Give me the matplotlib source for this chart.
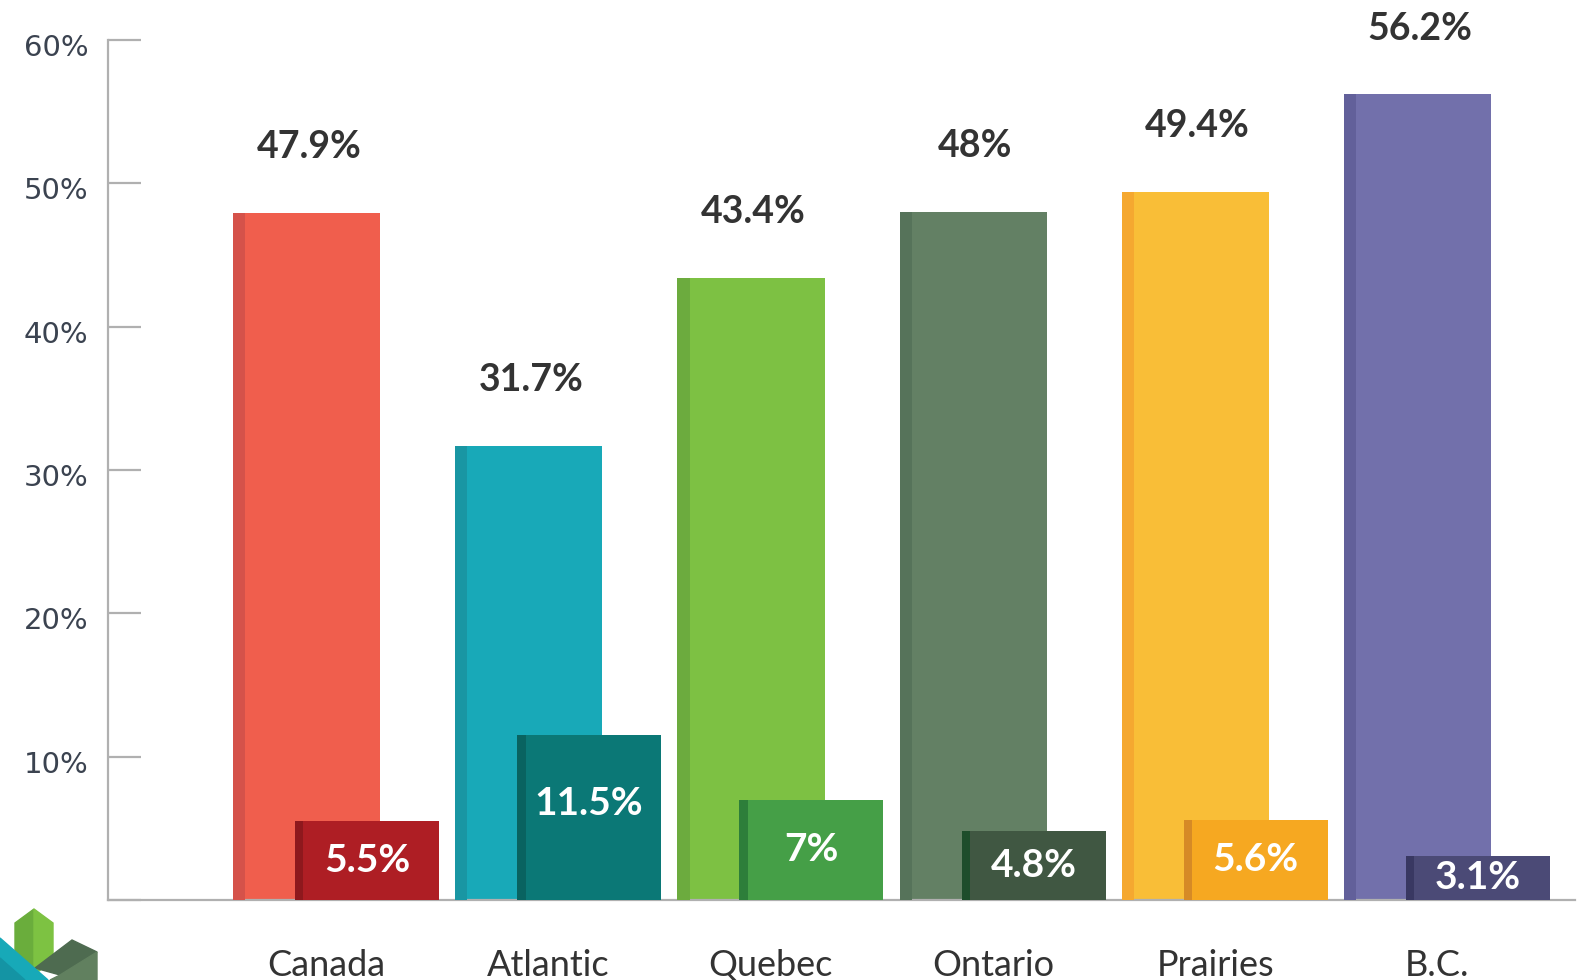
"""Regional shares — paired bars with a darker left edge stripe."""

import matplotlib.pyplot as plt
from matplotlib.patches import Polygon
from matplotlib.transforms import ScaledTranslation

# --- data -----------------------------------------------------------------
regions = ["Canada", "Atlantic", "Quebec", "Ontario", "Prairies", "B.C."]
main_share = [47.9, 31.7, 43.4, 48.0, 49.4, 56.2]
minor_share = [5.5, 11.5, 7.0, 4.8, 5.6, 3.1]

main_colors = ["#F05E4D", "#18A9B8", "#7DC143", "#638064", "#F9BE37", "#7270AB"]
main_edge = ["#D5524A", "#1996A3", "#6CAB3E", "#56735A", "#F5A830", "#62609A"]
minor_colors = ["#AE1E24", "#0B7876", "#459F47", "#405742", "#F6A821", "#4B4A76"]
minor_edge = ["#8E181D", "#096360", "#2D7E3A", "#1E4D2B", "#D68A26", "#393862"]

# --- layout (x unit = one region slot) --------------------------------------
W_PX, H_PX = 1577, 980
MAIN_OFF, MAIN_W, MAIN_STRIPE = 0.5626, 0.662, 0.055
MINOR_OFF, MINOR_W, MINOR_STRIPE = 0.5626 + 0.2790, 0.648, 0.038
GRAY = "#B0B0B0"
TEXT = "#333333"

fig = plt.figure(figsize=(W_PX / 100, H_PX / 100), dpi=100)
ax = fig.add_axes([108 / W_PX, 80 / H_PX, 1467 / W_PX, 860 / H_PX])

xs = list(range(len(regions)))
main_left = [i + MAIN_OFF for i in xs]
minor_left = [i + MINOR_OFF for i in xs]

ax.bar(main_left, main_share, width=MAIN_W, align="edge", color=main_colors, zorder=2)
ax.bar(main_left, main_share, width=MAIN_STRIPE, align="edge", color=main_edge, zorder=3)
ax.bar(minor_left, minor_share, width=MINOR_W, align="edge", color=minor_colors, zorder=4)
ax.bar(minor_left, minor_share, width=MINOR_STRIPE, align="edge", color=minor_edge, zorder=5)

for left, v in zip(main_left, main_share):
    ax.text(left + MAIN_W / 2 + 0.01, v + 4.6, f"{v:g}%", ha="center", va="center",
            fontsize=27, fontweight="bold", family="Lato", color=TEXT, clip_on=False)

for left, v in zip(minor_left, minor_share):
    ax.text(left + MINOR_W / 2, max(v / 2, v - 4.8), f"{v:g}%", ha="center", va="center",
            fontsize=28, fontweight="bold", family="Lato", color="white", zorder=6)

ax.set_xlim(0, 1467 / 222.2)
ax.set_ylim(0, 60)

ax.set_yticks(range(0, 70, 10))
ax.set_yticklabels([""] + [f"{t}%" for t in range(10, 70, 10)])
ax.tick_params(axis="y", direction="in", length=24, width=1.6, color=GRAY, pad=14,
               labelsize=21, labelcolor="#3B4350")
shift = ScaledTranslation(0, -0.05, fig.dpi_scale_trans)
for lab in ax.get_yticklabels():
    lab.set_transform(lab.get_transform() + shift)

ax.set_xticks([left + 0.42 for left in main_left])
ax.set_xticklabels(regions, family="Lato", fontsize=26, color=TEXT)
ax.tick_params(axis="x", length=0, pad=35)

for side in ("top", "right"):
    ax.spines[side].set_visible(False)
for side in ("left", "bottom"):
    ax.spines[side].set_color(GRAY)
    ax.spines[side].set_linewidth(1.6)


# --- logo in the corner -----------------------------------------------------
def px(points):
    return [(x / W_PX, 1 - y / H_PX) for x, y in points]


logo = [
    ([(15, 923), (34, 909), (34, 975), (15, 962)], "#6AAD3C"),
    ([(34, 909), (53, 923), (53, 960), (34, 975)], "#7DC242"),
    ([(35, 968), (72, 940), (97, 952), (60, 975)], "#4E6B50"),
    ([(60, 975), (97, 952), (97, 980), (50, 980)], "#61805F"),
    ([(0, 938), (48, 980), (0, 980)], "#17A9B8"),
    ([(0, 958), (25, 980), (0, 980)], "#1494A4"),
]
for pts, col in logo:
    fig.patches.append(Polygon(px(pts), closed=True, color=col,
                               transform=fig.transFigure, figure=fig))

fig.savefig("out.png", dpi=100)
